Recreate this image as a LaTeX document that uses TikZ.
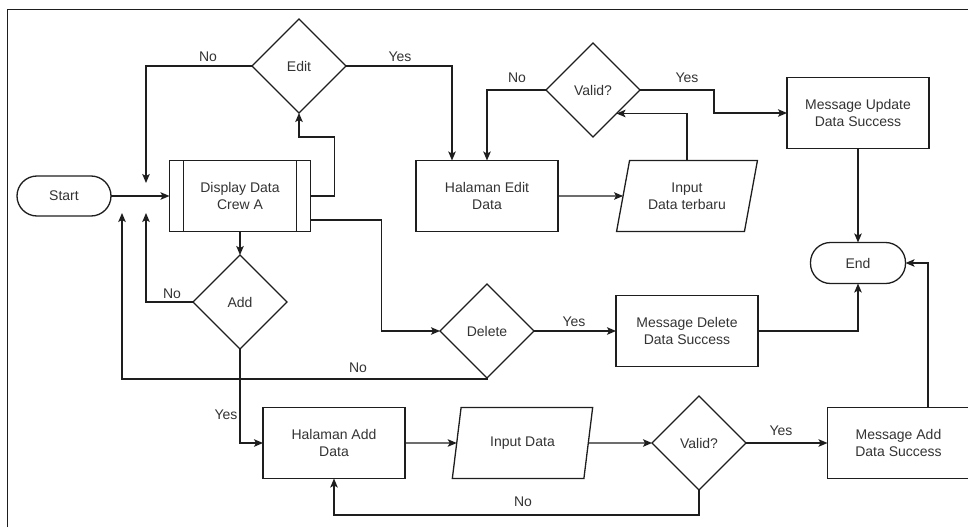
\documentclass[tikz,border=0pt]{standalone}
\usepackage{fontspec}
\setmainfont{Liberation Sans}
\usetikzlibrary{shapes.geometric,arrows.meta,calc}
\definecolor{ink}{HTML}{1E1E1E}
\definecolor{txt}{HTML}{333333}
\begin{document}
\begin{tikzpicture}[x=1pt,y=-1pt,
  line width=1.3pt, draw=ink,
  every node/.style={font=\fontsize{14}{17.5}\selectfont, text=txt, align=center, outer sep=0pt},
  box/.style={draw=ink, rectangle, minimum width=142pt, minimum height=71pt, inner sep=2pt},
  term/.style={draw=ink, rectangle, rounded corners=20pt, minimum width=94pt, minimum height=40pt},
  decision/.style={draw=ink, diamond, aspect=1, minimum width=94pt, minimum height=94pt, inner sep=0pt},
  io/.style={draw=ink, trapezium, trapezium left angle=73.5, trapezium right angle=106.5,
    trapezium stretches=true, minimum width=142pt, minimum height=71pt, inner sep=2pt},
  arr/.style={-{Stealth[length=9pt,width=7.5pt,inset=2pt]}},
  lbl/.style={fill=none, inner sep=0pt}]

\useasboundingbox (0,0) rectangle (968,527);

% outer frame
\draw[line width=1pt] (7,527) -- (7,10) -- (968,10);

% nodes
\node[term] (start) at (64,196) {Start};
\node[box, minimum width=141pt] (disp) at (240,196) {Display Data\\Crew A};
\draw ($(disp.north west)+(14,0)$) -- ($(disp.south west)+(14,0)$);
\draw ($(disp.north east)+(-14,0)$) -- ($(disp.south east)+(-14,0)$);

\node[decision] (edit) at (299,66) {Edit};
\node[box] (hedit) at (487,196) {Halaman Edit\\Data};
\node[io] (inedit) at (687,196) {Input\\Data terbaru};
\node[decision] (vale) at (593,90) {Valid?};
\node[box] (mupd) at (858,113) {Message Update\\Data Success};
\node[term, minimum width=95pt, minimum height=41pt] (endn) at (858,263) {End};

\node[decision] (add) at (240,302) {Add};
\node[decision] (del) at (487,331) {Delete};
\node[box] (mdel) at (687,331) {Message Delete\\Data Success};

\node[box] (hadd) at (334,443) {Halaman Add\\Data};
\node[io, minimum width=141pt] (inadd) at (522.5,443) {Input Data};
\node[decision] (vala) at (699,443) {Valid?};
\node[box] (madd) at (898.5,443) {Message Add\\Data Success};

% free ends of the loop-back arrows
\coordinate (ret1) at (146,183);
\coordinate (ret2) at (146,213);
\coordinate (ret3) at (122,213);

% connectors
\draw[arr] (start.east) -- (disp.west);
\draw[arr] (disp.east) -- ++(24,0) -- ++(0,-59) -| (edit.south);
\draw[arr] (edit.west) -| (ret1);
\draw[arr] (edit.east) -| ([xshift=-35pt]hedit.north);
\draw[arr] (vale.west) -| (hedit.north);
\draw[arr] (vale.east) -- ++(74,0) |- (mupd.west);
\draw[arr] (hedit.east) -- (inedit);
\draw[arr] (inedit.north) |- ($(vale.east)!0.5!(vale.south)$);
\draw[arr] (mupd.south) -- (endn.north);

\draw[arr] (disp.south) -- (add.north);
\draw[arr] (add.west) -| (ret2);
\draw[arr] ([yshift=-24pt]disp.east) -| ++(71,0) |- (del.west);
\draw[arr] (del.south) -- ++(0,1) -| (ret3);
\draw[arr] (del.east) -- (mdel.west);
\draw[arr] (mdel.east) -| (endn.south);

\draw[arr] (add.south) |- (hadd.west);
\draw[arr] (hadd.east) -- (inadd);
\draw[arr] (inadd) -- (vala.west);
\draw[arr] (vala.south) -- ++(0,25) -| (hadd.south);
\draw[arr] (vala.east) -- (madd.west);
\draw[arr] ([xshift=29.5pt]madd.north) |- (endn.east);

% branch labels
\node[lbl] (l1) at (208,57) {No};
\node[lbl] (l2) at (400,57) {Yes};
\node[lbl] (l3) at (517,78) {No};
\node[lbl] (l4) at (687,78) {Yes};
\node[lbl] (l5) at (172,294) {No};
\node[lbl] (l6) at (358,368) {No};
\node[lbl] (l7) at (226,415) {Yes};
\node[lbl] (l8) at (574,322) {Yes};
\node[lbl] (l9) at (523,502) {No};
\node[lbl] (l10) at (781,431) {Yes};
\end{tikzpicture}
\end{document}
